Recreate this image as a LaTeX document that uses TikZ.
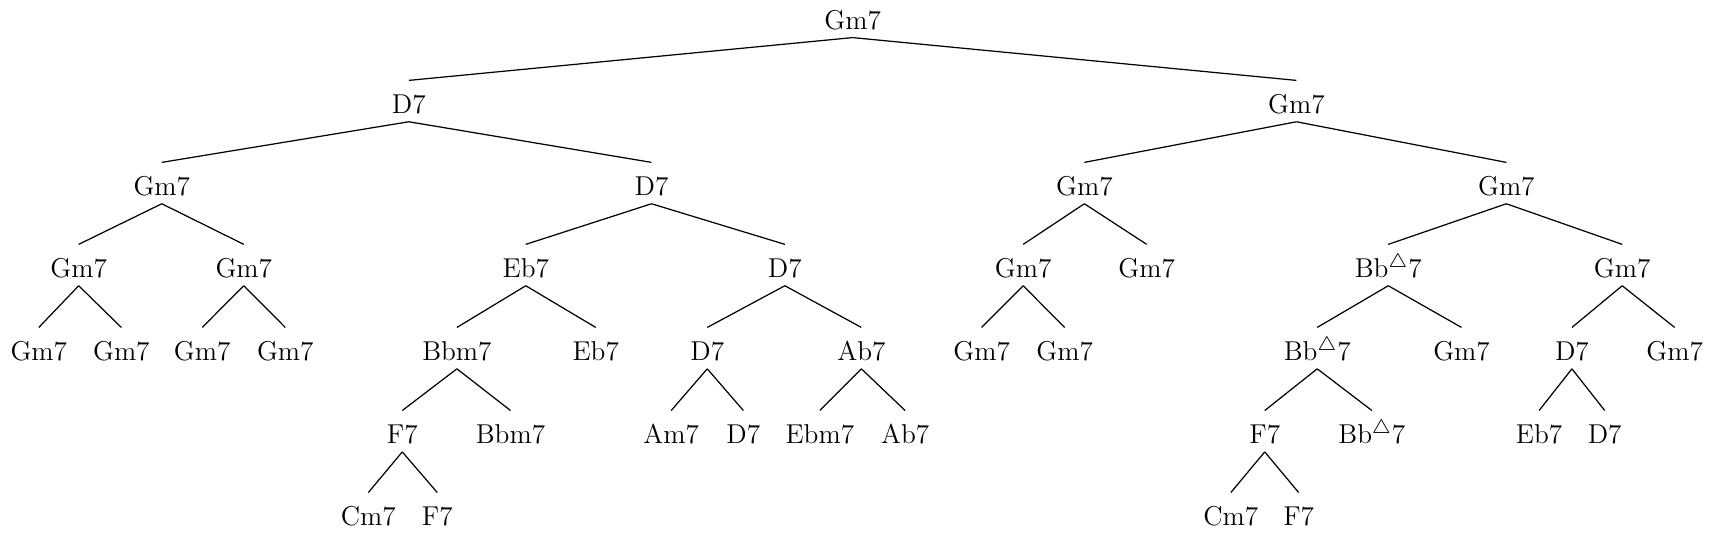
\documentclass[tikz,border=0pt]{standalone}
\usetikzlibrary{calc}
\begin{document}
\begin{tikzpicture}[x=0.4452pt,y=-0.4452pt,
  every node/.style={font=\fontsize{11.1}{13}\selectfont},
  chord/.style={inner ysep=0pt,inner xsep=1pt,text height=7.8pt,text depth=0pt,anchor=center},
  br/.style={line width=0.5pt}]
\useasboundingbox (0,0) rectangle (1568,489);
\newcommand{\tri}{Bb$^{\triangle}$7}
% level 0
\node[chord] (r) at (780,18) {Gm7};
% level 1
\node[chord] (a) at (374,95) {D7};
\node[chord] (b) at (1186,95) {Gm7};
% level 2
\node[chord] (aa) at (148,170) {Gm7};
\node[chord] (ab) at (596,170) {D7};
\node[chord] (ba) at (992,170) {Gm7};
\node[chord] (bb) at (1378,170) {Gm7};
% level 3
\node[chord] (aaa) at (72,245) {Gm7};
\node[chord] (aab) at (223,245) {Gm7};
\node[chord] (aba) at (481,245) {Eb7};
\node[chord] (abb) at (718,245) {D7};
\node[chord] (baa) at (936,245) {Gm7};
\node[chord] (bab) at (1049,245) {Gm7};
\node[chord] (bba) at (1270,245) {\tri};
\node[chord] (bbb) at (1484,245) {Gm7};
% level 4
\node[chord] (aaaa) at (35.5,321) {Gm7};
\node[chord] (aaab) at (111,321) {Gm7};
\node[chord] (aaba) at (185,321) {Gm7};
\node[chord] (aabb) at (261,321) {Gm7};
\node[chord] (abaa) at (418,321) {Bbm7};
\node[chord] (abab) at (545,321) {Eb7};
\node[chord] (abba) at (647,321) {D7};
\node[chord] (abbb) at (788,321) {Ab7};
\node[chord] (baaa) at (898,321) {Gm7};
\node[chord] (baab) at (974,321) {Gm7};
\node[chord] (bbaa) at (1205,321) {\tri};
\node[chord] (bbab) at (1337,321) {Gm7};
\node[chord] (bbba) at (1438,321) {D7};
\node[chord] (bbbb) at (1532,321) {Gm7};
% level 5
\node[chord] (abaaa) at (368,397) {F7};
\node[chord] (abaab) at (467,397) {Bbm7};
\node[chord] (abbaa) at (614,397) {Am7};
\node[chord] (abbab) at (680,397) {D7};
\node[chord] (abbba) at (750,397) {Ebm7};
\node[chord] (abbbb) at (828,397) {Ab7};
\node[chord] (bbaaa) at (1157,397) {F7};
\node[chord] (bbaab) at (1255,397) {\tri};
\node[chord] (bbbaa) at (1408,397) {Eb7};
\node[chord] (bbbab) at (1468,397) {D7};
% level 6
\node[chord] (abaaaa) at (337,472) {Cm7};
\node[chord] (abaaab) at (400,472) {F7};
\node[chord] (bbaaaa) at (1126,472) {Cm7};
\node[chord] (bbaaab) at (1188,472) {F7};
% edges
\foreach \p/\c in {r/a,r/b,a/aa,a/ab,b/ba,b/bb,
  aa/aaa,aa/aab,ab/aba,ab/abb,ba/baa,ba/bab,bb/bba,bb/bbb,
  aaa/aaaa,aaa/aaab,aab/aaba,aab/aabb,aba/abaa,aba/abab,abb/abba,abb/abbb,
  baa/baaa,baa/baab,bba/bbaa,bba/bbab,bbb/bbba,bbb/bbbb,
  abaa/abaaa,abaa/abaab,abba/abbaa,abba/abbab,abbb/abbba,abbb/abbbb,
  bbaa/bbaaa,bbaa/bbaab,bbba/bbbaa,bbba/bbbab,
  abaaa/abaaaa,abaaa/abaaab,bbaaa/bbaaaa,bbaaa/bbaaab}
  \draw[br] ([yshift=-3.2pt]\p.south) -- ([yshift=5.45pt]\c.north);
\end{tikzpicture}
\end{document}
